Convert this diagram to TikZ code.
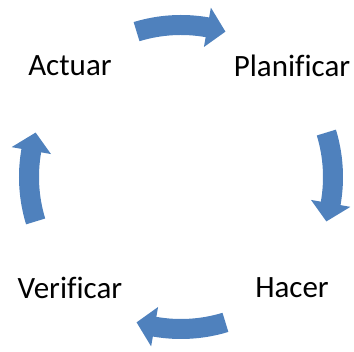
\documentclass[tikz,border=0pt]{standalone}
\usepackage{fontspec}
\setmainfont{Carlito}[Ligatures=NoCommon]
\definecolor{arrowblue}{HTML}{4F81BD}
\tikzset{
  phase/.style={font=\fontsize{31}{37}\selectfont, inner sep=0pt},
  cyclearrow/.style={fill=arrowblue}
}
\begin{document}
\begin{tikzpicture}

\def \radius {152pt}
\def \rout {162pt}   % outer edge of a shaft
\def \rin {142pt}    % inner edge of a shaft
\def \hout {172pt}   % outer corner of a head
\def \hin {132pt}    % inner corner of a head
\def \margin {17}    % half the span of an arrow, in angles
\def \headlen {7}    % length of a head, in angles
\useasboundingbox (-181pt,-175pt) rectangle (173pt,177pt);
  \node[phase] (planificar) at (45:157pt) {Planificar};
  \fill[cyclearrow] ({90+\margin}:\rout) arc ({90+\margin}:{90-\margin+\headlen}:\rout)
    -- ({90-\margin+\headlen}:\hout) -- ({90-\margin}:\radius) -- ({90-\margin+\headlen}:\hin)
    -- ({90-\margin+\headlen}:\rin) arc ({90-\margin+\headlen}:{90+\margin}:\rin) -- cycle;
%
  \node[phase] (hacer) at (-45:157pt) {Hacer};
  \fill[cyclearrow] ({0+\margin}:\rout) arc ({0+\margin}:{0-\margin+\headlen}:\rout)
    -- ({0-\margin+\headlen}:\hout) -- ({0-\margin}:\radius) -- ({0-\margin+\headlen}:\hin)
    -- ({0-\margin+\headlen}:\rin) arc ({0-\margin+\headlen}:{0+\margin}:\rin) -- cycle;
%
  \node[phase] (verificar) at (-135:157pt) {Verificar};
  \fill[cyclearrow] ({-90+\margin}:\rout) arc ({-90+\margin}:{-90-\margin+\headlen}:\rout)
    -- ({-90-\margin+\headlen}:\hout) -- ({-90-\margin}:\radius) -- ({-90-\margin+\headlen}:\hin)
    -- ({-90-\margin+\headlen}:\rin) arc ({-90-\margin+\headlen}:{-90+\margin}:\rin) -- cycle;
%
  \node[phase] (actuar) at (135:157pt) {Actuar};
  \fill[cyclearrow] ({180+\margin}:\rout) arc ({180+\margin}:{180-\margin+\headlen}:\rout)
    -- ({180-\margin+\headlen}:\hout) -- ({180-\margin}:\radius) -- ({180-\margin+\headlen}:\hin)
    -- ({180-\margin+\headlen}:\rin) arc ({180-\margin+\headlen}:{180+\margin}:\rin) -- cycle;
%
\end{tikzpicture}
\end{document}
